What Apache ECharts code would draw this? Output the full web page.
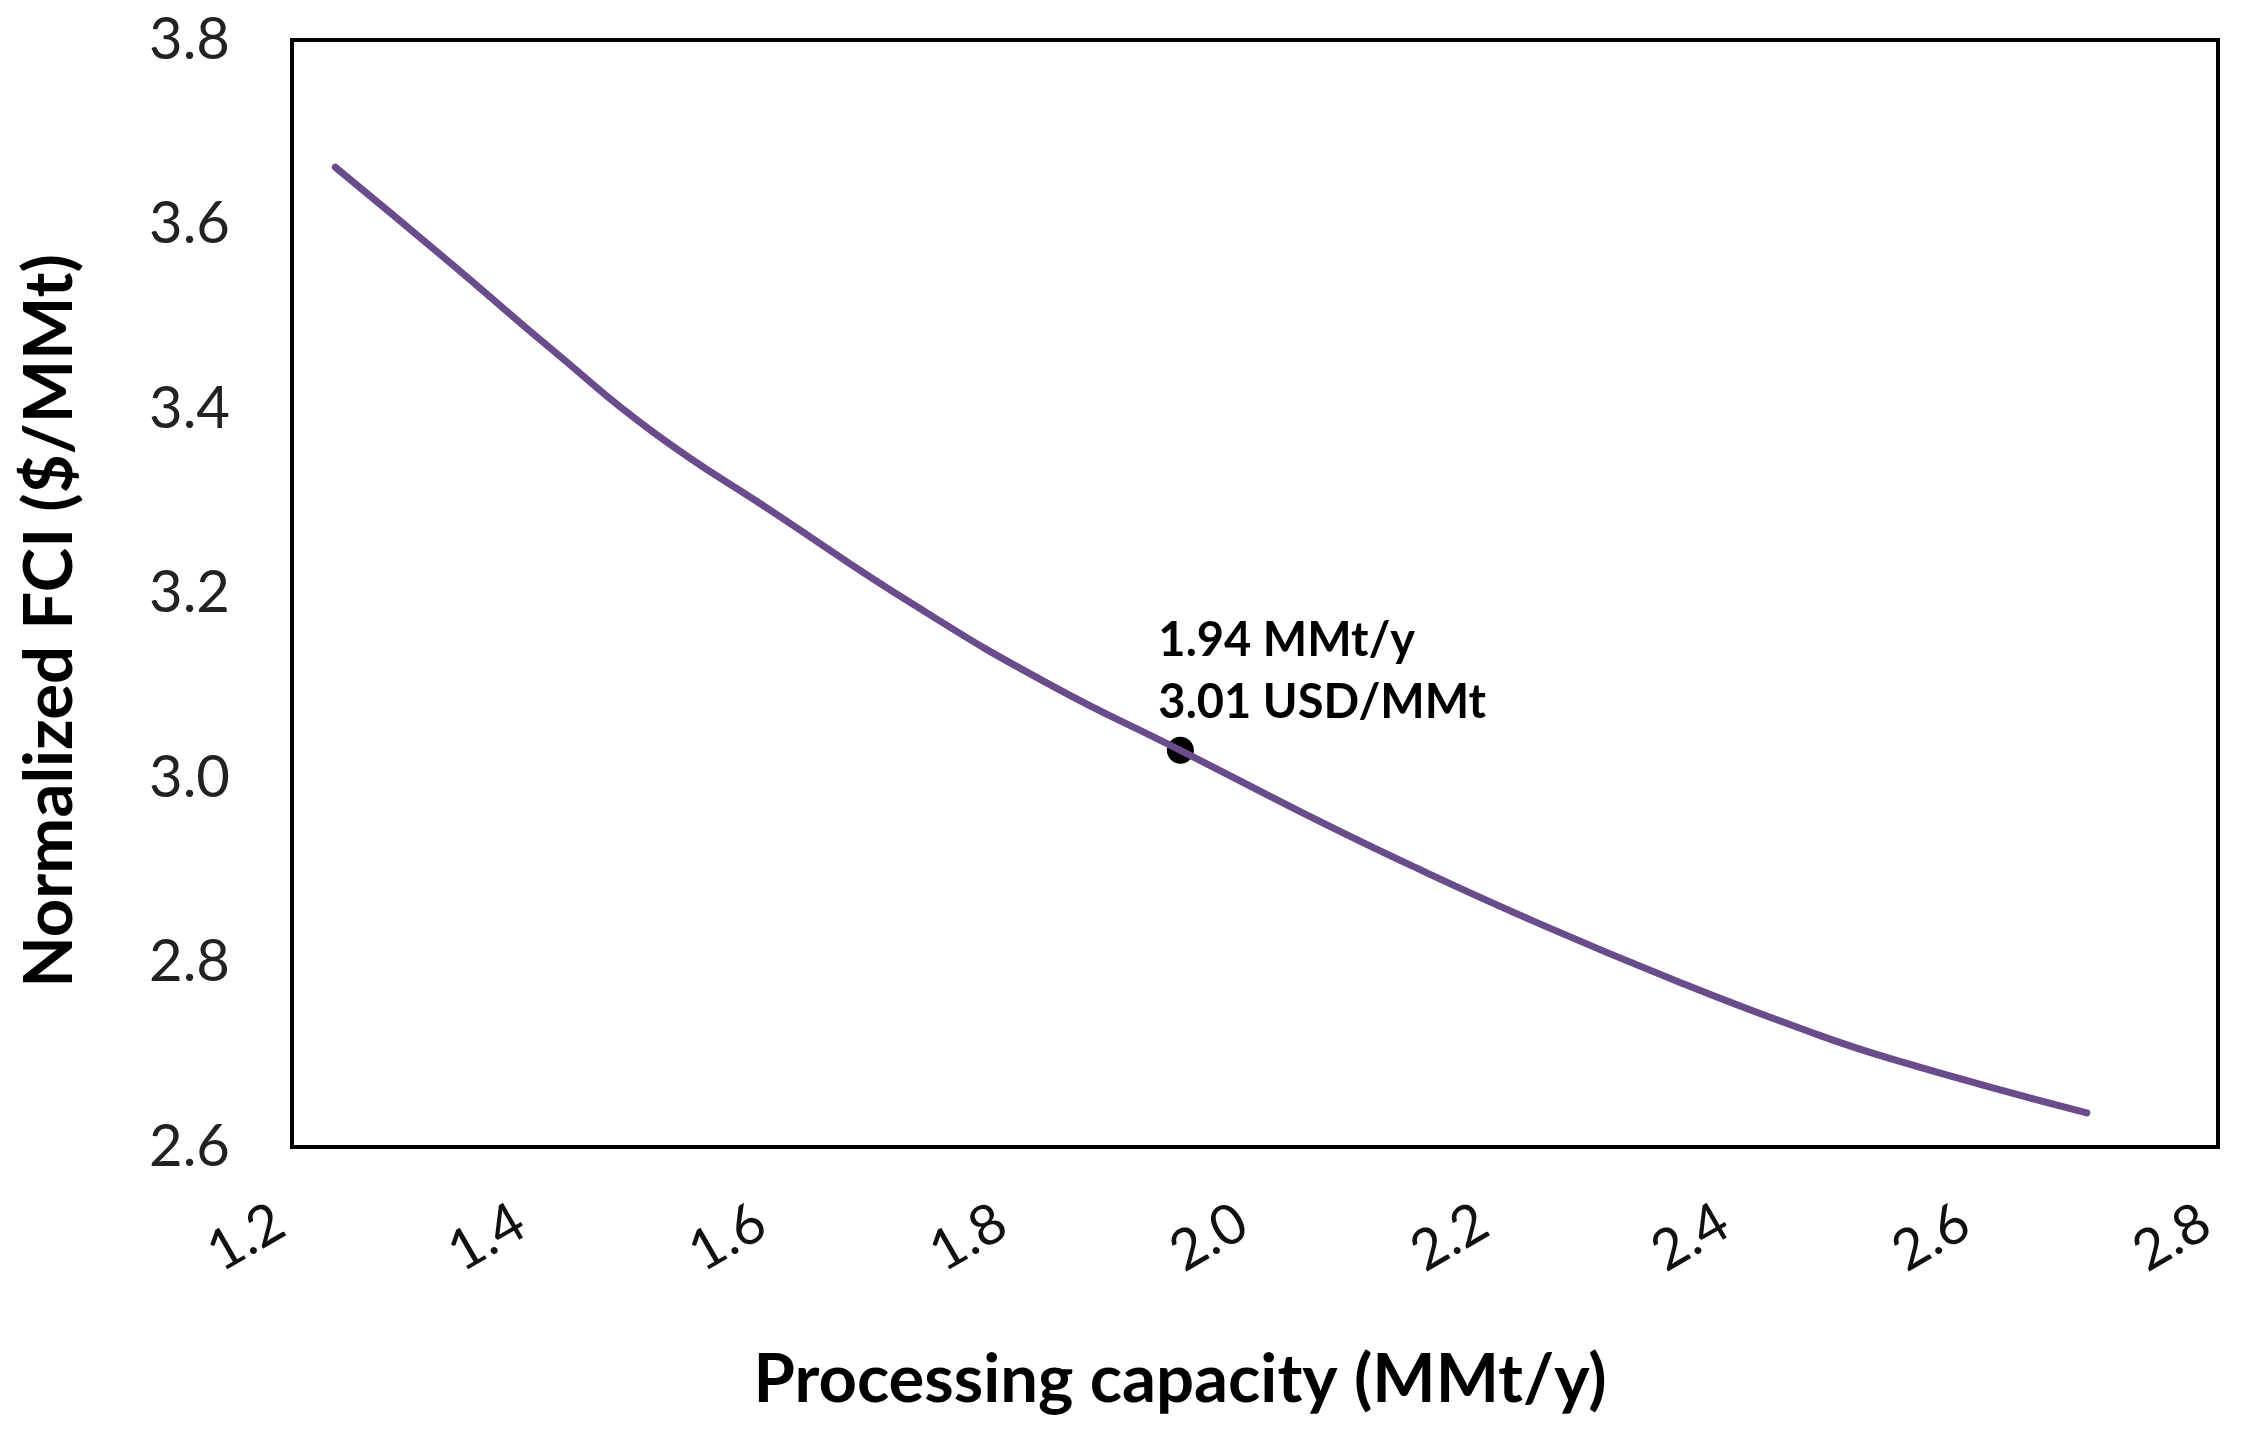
<!DOCTYPE html>
<html>
<head>
<meta charset="utf-8">
<script src="https://cdn.jsdelivr.net/npm/echarts@6/dist/echarts.min.js"></script>
<style>
    html, body { margin: 0; padding: 0; background: #fff; }
    #main { width: 2243px; height: 1442px; }
</style>
</head>
<body>
<div id="main"></div>
<script>
    // curve: capacity (MMt/y) vs normalized FCI
    var capacity = [1.236, 1.33, 1.42, 1.50, 1.60, 1.72, 1.83, 1.938, 2.04, 2.13, 2.24, 2.35, 2.45, 2.53, 2.691];
    var fci = [3.662, 3.560, 3.460, 3.375, 3.288, 3.185, 3.101, 3.030, 2.962, 2.905, 2.840, 2.780, 2.730, 2.695, 2.637];
    // highlighted point
    var optX = 1.938;
    var optY = 3.030;
    var optLines = ['1.94 MMt/y', '3.01 USD/MMt'];

    var lineData = capacity.map(function (x, i) { return [x, fci[i]]; });

    var myChart = echarts.init(document.getElementById('main'));
    var option = {
        backgroundColor: '#fff',
        textStyle: { fontFamily: 'Lato' },
        grid: {
            left: 292, right: 25, top: 40, bottom: 295,
            show: true, borderColor: '#000', borderWidth: 4
        },
        xAxis: {
            type: 'value', min: 1.2, max: 2.8, interval: 0.2,
            axisLine: { show: false }, axisTick: { show: false }, splitLine: { show: false },
            axisLabel: {
                rotate: 30, margin: 64, fontSize: 56, color: '#111',
                padding: [0, 14, 0, 0],
                formatter: function (v) { return v.toFixed(1); }
            },
            name: 'Processing capacity (MMt/y)',
            nameLocation: 'middle', nameGap: 200,
            nameTextStyle: { fontSize: 67, fontWeight: 'bold', color: '#000', padding: [0, 150, 0, 0] }
        },
        yAxis: {
            type: 'value', min: 2.6, max: 3.8, interval: 0.2,
            axisLine: { show: false }, axisTick: { show: false }, splitLine: { show: false },
            axisLabel: {
                margin: 62, fontSize: 58, color: '#222',
                formatter: function (v) { return v.toFixed(1); }
            },
            name: 'Normalized FCI ($/MMt)',
            nameLocation: 'middle', nameGap: 208,
            nameTextStyle: { fontSize: 67, fontWeight: 'bold', color: '#000', padding: [0, 55, 0, 0] }
        },
        series: [
            {
                type: 'line', data: lineData, smooth: 0.5, showSymbol: false,
                lineStyle: { color: '#6a4b8b', width: 7, cap: 'round' }
            },
            {
                type: 'scatter', data: [[optX, optY]], symbolSize: 27,
                itemStyle: { color: '#000', opacity: 1 },
                label: {
                    show: true, position: 'top', distance: 0, offset: [-22, -3],
                    align: 'left', verticalAlign: 'bottom',
                    fontSize: 47, fontWeight: 'bold', lineHeight: 62, color: '#000',
                    formatter: function () { return optLines.join('\n'); }
                }
            }
        ]
    };
    myChart.setOption(option);
</script>
</body>
</html>
